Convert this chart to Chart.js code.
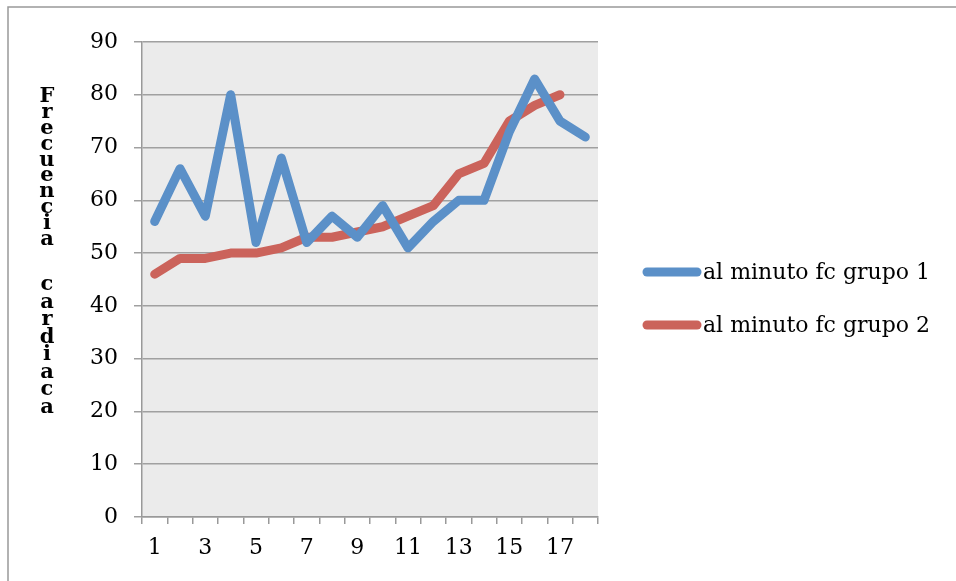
<!DOCTYPE html>
<html>
<head>
<meta charset="utf-8">
<script src="https://cdn.jsdelivr.net/npm/chart.js@4/dist/chart.umd.min.js"></script>
<style>
  html, body { margin: 0; padding: 0; background: #ffffff; }
  #wrap { width: 956px; height: 581px; position: relative; }
</style>
</head>
<body>
<div id="wrap"><canvas id="fc-chart" width="956" height="581"></canvas></div>
<script>
// Minutes 1..18
const categories = ["1", "2", "3", "4", "5", "6", "7", "8", "9", "10", "11", "12", "13", "14", "15", "16", "17", "18"];
// Heart rate per minute, group 1
const grupo1 = [56, 66, 57, 80, 52, 68, 52, 57, 53, 59, 51, 56, 60, 60, 73, 83, 75, 72];
// Heart rate per minute, group 2 (no reading at minute 18)
const grupo2 = [46, 49, 49, 50, 50, 51, 53, 53, 54, 55, 57, 59, 65, 67, 75, 78, 80, null];
const seriesNames = ["al minuto fc grupo 1", "al minuto fc grupo 2"];
const seriesColors = ["#5b90c8", "#cb635b"];
const yTitle = "Frecuencia cardiaca";

const serif = "'DejaVu Serif', 'Liberation Serif', serif";

// grey plot background + outer frame
const framePlugin = {
    id: "frame",
    beforeDraw(chart) {
        const { ctx, chartArea } = chart;
        ctx.save();
        ctx.fillStyle = "#ebebeb";
        ctx.fillRect(chartArea.left, chartArea.top, chartArea.right - chartArea.left, chartArea.bottom - chartArea.top);
        ctx.strokeStyle = "#999999";
        ctx.lineWidth = 1.5;
        ctx.beginPath();
        ctx.moveTo(8, 581);
        ctx.lineTo(8, 7);
        ctx.lineTo(956, 7);
        ctx.stroke();
        ctx.restore();
    }
};

// stacked letters for the y axis title
const stackedTitle = {
    id: "stackedTitle",
    afterDraw(chart) {
        const ctx = chart.ctx;
        ctx.save();
        ctx.font = "bold 21px " + serif;
        ctx.fillStyle = "#000000";
        ctx.textAlign = "center";
        ctx.textBaseline = "middle";
        const words = yTitle.split(" ");
        let y = 97;
        words[0].split("").forEach((ch) => { ctx.fillText(ch, 47, y); y += 15.8; });
        y = 285;
        words[1].split("").forEach((ch) => { ctx.fillText(ch, 47, y); y += 17.5; });
        ctx.restore();
    }
};

// legend on the right side
const sideLegend = {
    id: "sideLegend",
    afterDraw(chart) {
        const ctx = chart.ctx;
        ctx.save();
        chart.data.datasets.forEach((ds, i) => {
            const y = 272 + i * 53;
            ctx.strokeStyle = ds.borderColor;
            ctx.lineWidth = 9;
            ctx.lineCap = "round";
            ctx.beginPath();
            ctx.moveTo(647, y);
            ctx.lineTo(697, y);
            ctx.stroke();
            ctx.fillStyle = "#000000";
            ctx.font = "22px " + serif;
            ctx.textAlign = "left";
            ctx.textBaseline = "middle";
            ctx.fillText(ds.label, 703, y + 1);
        });
        ctx.restore();
    }
};

const ctx = document.getElementById("fc-chart").getContext("2d");
new Chart(ctx, {
    type: "line",
    data: {
        labels: categories,
        datasets: [
            {
                label: seriesNames[0],
                data: grupo1,
                borderColor: seriesColors[0],
                borderWidth: 9,
                borderCapStyle: "round",
                borderJoinStyle: "round",
                pointRadius: 0,
                tension: 0
            },
            {
                label: seriesNames[1],
                data: grupo2,
                borderColor: seriesColors[1],
                borderWidth: 9,
                borderCapStyle: "round",
                borderJoinStyle: "round",
                pointRadius: 0,
                tension: 0
            }
        ]
    },
    options: {
        responsive: false,
        animation: false,
        layout: { padding: { left: 0, top: 42, right: 358, bottom: 0 } },
        plugins: {
            legend: { display: false },
            tooltip: { enabled: false }
        },
        scales: {
            x: {
                offset: true,
                grid: {
                    offset: true,
                    drawOnChartArea: false,
                    drawTicks: true,
                    tickLength: 7,
                    color: "#999999",
                    lineWidth: 1.5
                },
                border: { color: "#999999", width: 1.5 },
                ticks: {
                    autoSkip: false,
                    maxRotation: 0,
                    padding: 11,
                    color: "#000000",
                    font: { family: serif, size: 22 },
                    callback: function (value, index) {
                        return index % 2 === 0 ? this.getLabelForValue(value) : "";
                    }
                },
                afterFit(scale) { scale.height = 64; }
            },
            y: {
                min: 0,
                max: 90,
                ticks: {
                    stepSize: 10,
                    padding: 16,
                    color: "#000000",
                    font: { family: serif, size: 22 }
                },
                grid: {
                    color: "#a0a0a0",
                    lineWidth: 1.5,
                    tickLength: 8
                },
                border: { color: "#999999", width: 1.5 },
                afterFit(scale) { scale.width = 142; }
            }
        }
    },
    plugins: [framePlugin, stackedTitle, sideLegend]
});
</script>
</body>
</html>
